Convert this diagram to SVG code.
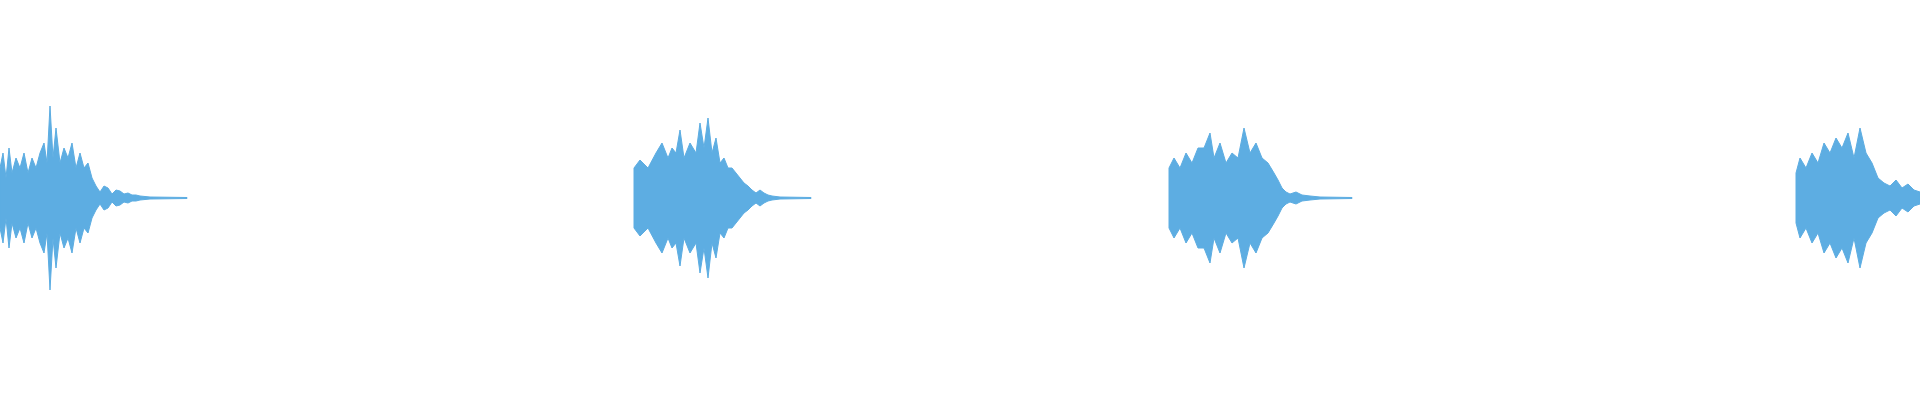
<svg xmlns="http://www.w3.org/2000/svg" width="1920" height="400" viewBox="0 0 1920 400">
<style>.w{fill:#5dade2;stroke:#5dade2;stroke-width:1}</style>
<rect width="1920" height="400" fill="#fff"/>
<g id="waveform">
<path class="w" d="M0,168 L3,153 L6,178 L9,148 L12,173 L16,158 L20,168 L24,153 L28,173 L32,158 L36,168 L40,153 L44,143 L47,163 L50,106 L53,158 L56,128 L60,163 L64,148 L68,158 L72,143 L76,168 L80,153 L84,168 L88,163 L92,178 L96,186 L100,192 L104,186 L108,188 L112,194 L116,190 L120,191 L124,194 L128,193 L132,195 L136,195 L140,196 L150,197 L187,197.5 L187,198.5 L150,199 L140,200 L136,201 L132,201 L128,203 L124,202 L120,205 L116,206 L112,202 L108,208 L104,210 L100,204 L96,210 L92,218 L88,233 L84,228 L80,243 L76,228 L72,253 L68,238 L64,248 L60,233 L56,268 L53,238 L50,290 L47,233 L44,253 L40,243 L36,228 L32,238 L28,223 L24,243 L20,228 L16,238 L12,223 L9,248 L6,218 L3,243 L0,228 Z"/>
<path class="w" d="M634,168 L640,160 L648,168 L656,153 L662,143 L668,158 L672,148 L676,153 L680,130 L684,158 L690,143 L696,153 L700,123 L704,148 L708,118 L712,153 L716,138 L720,163 L724,158 L728,168 L732,168 L736,173 L740,178 L744,183 L748,186 L752,190 L756,193 L760,190 L764,193 L768,195 L772,196 L780,197 L811,197.5 L811,198.5 L780,199 L772,200 L768,201 L764,203 L760,206 L756,203 L752,206 L748,210 L744,213 L740,218 L736,223 L732,228 L728,228 L724,238 L720,233 L716,258 L712,243 L708,278 L704,248 L700,273 L696,243 L690,253 L684,238 L680,266 L676,243 L672,248 L668,238 L662,253 L656,243 L648,228 L640,236 L634,228 Z"/>
<path class="w" d="M1169,168 L1174,158 L1180,168 L1186,153 L1192,163 L1198,148 L1204,148 L1210,133 L1214,158 L1220,143 L1226,163 L1232,153 L1238,158 L1244,128 L1250,153 L1256,143 L1262,158 L1268,163 L1274,173 L1278,180 L1282,188 L1286,192 L1290,194 L1296,192 L1302,195 L1310,196 L1320,197 L1352,197.5 L1352,198.5 L1320,199 L1310,200 L1302,201 L1296,204 L1290,202 L1286,204 L1282,208 L1278,216 L1274,223 L1268,233 L1262,238 L1256,253 L1250,243 L1244,268 L1238,238 L1232,243 L1226,233 L1220,253 L1214,238 L1210,263 L1204,248 L1198,248 L1192,233 L1186,243 L1180,228 L1174,238 L1169,228 Z"/>
<path class="w" d="M1796,173 L1800,158 L1806,168 L1812,153 L1818,163 L1824,143 L1830,153 L1836,138 L1842,148 L1848,133 L1854,158 L1860,128 L1866,153 L1872,163 L1878,178 L1884,183 L1890,186 L1896,180 L1902,188 L1908,184 L1914,190 L1920,192 L1920,204 L1914,206 L1908,212 L1902,208 L1896,216 L1890,210 L1884,213 L1878,218 L1872,233 L1866,243 L1860,268 L1854,238 L1848,263 L1842,248 L1836,258 L1830,243 L1824,253 L1818,233 L1812,243 L1806,228 L1800,238 L1796,223 Z"/>
</g>
</svg>
